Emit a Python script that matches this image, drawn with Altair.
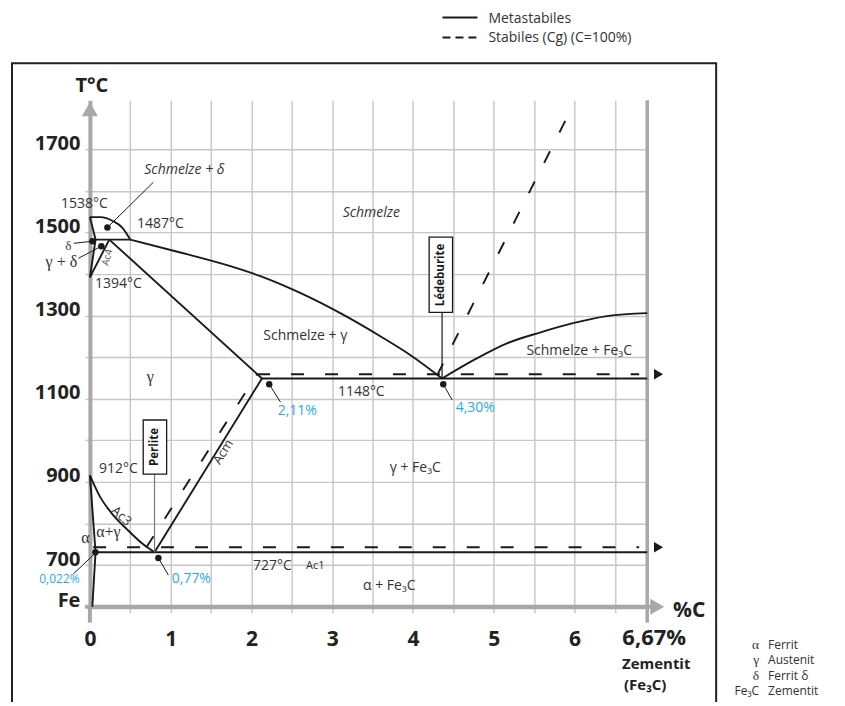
import altair as alt
import pandas as pd

# ---------------- data (carbon %, temperature °C) ----------------
# metastable (solid) lines
liq_delta_c = [0.00, 0.13, 0.29, 0.40, 0.50]
liq_delta_t = [1537, 1537, 1527, 1512, 1483]
delta_sol_c = [0.00, 0.07]
delta_sol_t = [1537, 1483]
delta_gamma_c = [0.07, 0.00]
delta_gamma_t = [1483, 1392]
ac4_c = [0.24, 0.00]
ac4_t = [1483, 1392]
peritectic_c = [0.05, 0.50]
peritectic_t = [1483, 1483]
gamma_sol_c = [0.24, 2.13]
gamma_sol_t = [1483, 1149]
liquidus_c = [0.50, 1.12, 1.74, 2.11, 2.61, 3.10, 3.60, 3.97, 4.36]
liquidus_t = [1483, 1452, 1419, 1395, 1354, 1306, 1250, 1205, 1149]
liq_fe3c_c = [4.36, 4.75, 5.17, 5.58, 5.98, 6.40, 6.90]
liq_fe3c_t = [1149, 1193, 1234, 1260, 1282, 1299, 1306]
eutectic_c = [2.13, 6.90]
eutectic_t = [1149, 1149]
acm_c = [0.80, 2.13]
acm_t = [731, 1149]
a3_c = [0.00, 0.13, 0.26, 0.46, 0.66, 0.80]
a3_t = [916, 863, 827, 786, 750, 731]
alpha_c = [0.00, 0.07]
alpha_t = [916, 731]
solvus_c = [0.07, 0.03]
solvus_t = [731, 600]
eutectoid_c = [0.07, 6.90]
eutectoid_t = [731, 731]

# stable (dashed) lines
st_eutectic_c = [2.07, 6.80]
st_eutectic_t = [1159, 1159]
st_eutectoid_c = [0.04, 6.80]
st_eutectoid_t = [743, 743]
st_acm_c = [0.70, 2.07]
st_acm_t = [743, 1159]
st_liq_c = [4.30, 5.92]
st_liq_t = [1157, 1782]

# marked points
dot_c = [0.217, 0.031, 0.142, 0.068, 0.848, 2.22, 4.375]
dot_t = [1512, 1479, 1467, 731, 717, 1135, 1135]

# ---------------- styling ----------------
FONT = "Open Sans"
SERIF = "Liberation Serif"
GRID = "#c6c6c6"
AXIS = "#a8a8a8"
INK = "#1a1a1a"
TXT = "#333333"
BLUE = "#29abe2"

xscale = alt.Scale(domain=[0, 6.9], nice=False, zero=False)
yscale = alt.Scale(domain=[600, 1818], nice=False, zero=False)


def seg_df(segs):
    rows = []
    for name, cs, ts in segs:
        for i, (c, t) in enumerate(zip(cs, ts)):
            rows.append({"seg": name, "i": i, "x": c, "T": t})
    return pd.DataFrame(rows)


solid = seg_df([
    ("liq_delta", liq_delta_c, liq_delta_t),
    ("delta_sol", delta_sol_c, delta_sol_t),
    ("delta_gamma", delta_gamma_c, delta_gamma_t),
    ("ac4", ac4_c, ac4_t),
    ("peritectic", peritectic_c, peritectic_t),
    ("gamma_sol", gamma_sol_c, gamma_sol_t),
    ("liquidus", liquidus_c, liquidus_t),
    ("liq_fe3c", liq_fe3c_c, liq_fe3c_t),
    ("eutectic", eutectic_c, eutectic_t),
    ("acm", acm_c, acm_t),
    ("a3", a3_c, a3_t),
    ("alpha", alpha_c, alpha_t),
    ("solvus", solvus_c, solvus_t),
    ("eutectoid", eutectoid_c, eutectoid_t),
])
dashed = seg_df([
    ("st_eutectic", st_eutectic_c, st_eutectic_t),
    ("st_eutectoid", st_eutectoid_c, st_eutectoid_t),
    ("st_acm", st_acm_c, st_acm_t),
    ("st_liq", st_liq_c, st_liq_t),
])

x_axis = alt.Axis(
    values=[i * 0.5 for i in range(14)],
    labelExpr="datum.value % 1 == 0 ? format(datum.value, 'd') : ''",
    title=None, grid=True, gridColor=GRID, gridWidth=1.4,
    domainColor=AXIS, domainWidth=4, tickColor=GRID, tickWidth=1.4, tickSize=6,
    labelFont=FONT, labelFontWeight="bold", labelFontSize=21, labelColor="#222",
    labelPadding=16, labelFlush=False, labelOverlap=False,
)
y_axis = alt.Axis(
    values=list(range(600, 1800, 100)),
    labelExpr="datum.value == 600 ? 'Fe' : (datum.value % 200 == 100 ? format(datum.value, 'd') : '')",
    title=None, grid=True, gridColor=GRID, gridWidth=1.4,
    domainColor=AXIS, domainWidth=4, tickColor=GRID, tickWidth=1.4, tickSize=5,
    labelFont=FONT, labelFontWeight="bold", labelFontSize=20, labelColor="#222",
    labelPadding=5, labelBaseline="alphabetic", labelFlush=False, labelOverlap=False,
)


def X(f="x"):
    return alt.X(f"{f}:Q", scale=xscale, axis=x_axis)


def Y(f="T"):
    return alt.Y(f"{f}:Q", scale=yscale, axis=y_axis)


layers = []

# gray edge lines / axis extensions (pixel decorations relative to plot area)
layers.append(alt.Chart(pd.DataFrame({"k": [0]})).mark_rule(color=AXIS, strokeWidth=3.5).encode(
    x=alt.value(558), y=alt.value(0), y2=alt.value(523)))
layers.append(alt.Chart(pd.DataFrame({"k": [0]})).mark_rule(color=AXIS, strokeWidth=4).encode(
    x=alt.value(0), y=alt.value(505), y2=alt.value(523)))
layers.append(alt.Chart(pd.DataFrame({"k": [0]})).mark_rule(color=AXIS, strokeWidth=4).encode(
    x=alt.value(-5), x2=alt.value(564), y=alt.value(507)))
layers.append(alt.Chart(pd.DataFrame({"k": [0]})).mark_point(
    shape="triangle-up", filled=True, color=AXIS, size=260, opacity=1).encode(
    x=alt.value(0), y=alt.value(9)))
layers.append(alt.Chart(pd.DataFrame({"k": [0]})).mark_point(
    shape="triangle-right", filled=True, color=AXIS, size=260, opacity=1).encode(
    x=alt.value(568), y=alt.value(507)))

# solid metastable lines (carry the axes)
layers.append(alt.Chart(solid).mark_line(color=INK, strokeWidth=1.9, interpolate="monotone").encode(
    x=X(), y=Y(), detail="seg:N", order="i:Q"))
# dashed stable lines
layers.append(alt.Chart(dashed).mark_line(color=INK, strokeWidth=1.9, strokeDash=[13, 21]).encode(
    x=X(), y=Y(), detail="seg:N", order="i:Q"))
# arrows at end of dashed lines
layers.append(alt.Chart(pd.DataFrame({"x": [7.04, 7.04], "T": [1159, 743]})).mark_point(
    shape="triangle-right", filled=True, color=INK, size=110, opacity=1).encode(x=X(), y=Y()))

# leader lines
lead = pd.DataFrame({
    "x": [0.217, -0.20, -0.142, 0.068, 0.848, 2.22, 4.375],
    "T": [1512, 1474, 1438, 729, 717, 1135, 1135],
    "x2": [0.786, 0.031, 0.142, -0.204, 0.972, 2.36, 4.486],
    "T2": [1621, 1479, 1467, 679, 676, 1092, 1097],
})
layers.append(alt.Chart(lead).mark_rule(color=INK, strokeWidth=1).encode(
    x=X(), y=Y(), x2="x2:Q", y2="T2:Q"))
# Perlite / Ledeburite stems
layers.append(alt.Chart(pd.DataFrame({"x": [0.80], "T": [731], "T2": [919]})).mark_rule(
    color="#777", strokeWidth=1.2).encode(x=X(), y=Y(), y2="T2:Q"))
layers.append(alt.Chart(pd.DataFrame({"x": [4.36], "T": [1149], "T2": [1308]})).mark_rule(
    color=INK, strokeWidth=1.2).encode(x=X(), y=Y(), y2="T2:Q"))
# boxes
boxes = pd.DataFrame({"x": [0.66, 4.20], "x2": [0.95, 4.49], "T": [919, 1308], "T2": [1049, 1489]})
layers.append(alt.Chart(boxes).mark_rect(fill="white", stroke=INK, strokeWidth=1.3).encode(
    x=X(), x2="x2:Q", y=Y(), y2="T2:Q"))
layers.append(alt.Chart(pd.DataFrame({"t": ["Perlite", "Lédeburite"], "x": [0.805, 4.345], "T": [984, 1398]})).mark_text(
    font=FONT, fontWeight="bold", fontSize=11.5, angle=270, color=INK, baseline="middle").encode(
    x=X(), y=Y(), text="t:N"))

# dots
layers.append(alt.Chart(pd.DataFrame({"x": dot_c, "T": dot_t})).mark_circle(
    color=INK, size=42, opacity=1).encode(x=X(), y=Y()))

# sans labels
sans = pd.DataFrame([
    ("1538°C", -0.068, 1568, 14, 0, TXT),
    ("1487°C", 0.873, 1520, 14, 0, TXT),
    ("1394°C", 0.353, 1375, 14, 0, TXT),
    ("Schmelze + γ", 2.667, 1250, 14, 0, TXT),
    ("Schmelze + Fe₃C", 6.058, 1214, 14, 0, TXT),
    ("1148°C", 3.36, 1116, 14, 0, TXT),
    ("912°C", 0.353, 931, 14, 0, TXT),
    ("γ + Fe₃C", 4.028, 933, 14, 0, TXT),
    ("α + Fe₃C", 3.707, 650, 14, 0, TXT),
    ("727°C", 2.259, 698, 14, 0, TXT),
    ("Ac1", 2.79, 698, 11, 0, TXT),
    ("Acm", 1.652, 972, 13, 302, TXT),
    ("Ac3", 0.39, 818, 13, 42, TXT),
    ("Ac4", 0.217, 1440, 10, 285, "#555"),
    ("2,11%", 2.568, 1070, 14, 0, BLUE),
    ("4,30%", 4.771, 1077, 14, 0, BLUE),
    ("0,022%", -0.377, 666, 12, 0, BLUE),
    ("0,77%", 1.256, 666, 14, 0, BLUE),
], columns=["t", "x", "T", "size", "angle", "color"])
layers.append(alt.Chart(sans).mark_text(font=FONT, baseline="middle").encode(
    x=X(), y=Y(), text="t:N",
    size=alt.Size("size:Q", scale=None), angle=alt.Angle("angle:Q", scale=None),
    color=alt.Color("color:N", scale=None)))

ital = pd.DataFrame([
    ("Schmelze + δ", 1.17, 1650),
    ("Schmelze", 3.484, 1546),
], columns=["t", "x", "T"])
layers.append(alt.Chart(ital).mark_text(font=FONT, fontStyle="italic", fontSize=14, color=TXT, baseline="middle").encode(
    x=X(), y=Y(), text="t:N"))

serif = pd.DataFrame([
    ("δ", -0.266, 1468, 13),
    ("γ + δ", -0.353, 1428, 16),
    ("γ", 0.749, 1152, 16),
    ("α+γ", 0.229, 779, 16),
    ("α", -0.056, 765, 16),
], columns=["t", "x", "T", "size"])
layers.append(alt.Chart(serif).mark_text(font=SERIF, color=TXT, baseline="middle").encode(
    x=X(), y=Y(), text="t:N", size=alt.Size("size:Q", scale=None)))

# ---------------- outside texts (pixel positions relative to plot area) ----------------
def ptext(text, px, py, size, weight="normal", align="center", font=FONT, color="#222"):
    return alt.Chart(pd.DataFrame({"t": [text]})).mark_text(
        font=font, fontSize=size, fontWeight=weight, align=align, baseline="middle", color=color).encode(
        x=alt.value(px), y=alt.value(py), text="t:N")


layers += [
    ptext("T°C", 2, -14, 20, "bold"),
    ptext("%C", 600, 511, 21, "bold"),
    ptext("6,67%", 565, 538, 22, "bold"),
    ptext("Zementit", 567, 564, 15, "bold"),
    ptext("(Fe₃C)", 556, 585, 15, "bold"),
    ptext("Metastabiles", 399, -81, 14, align="left", color=TXT),
    ptext("Stabiles (Cg) (C=100%)", 399, -62, 14, align="left", color=TXT),
    ptext("α", 670, 545, 13.5, align="right", font=SERIF, color=TXT),
    ptext("γ", 670, 560.5, 13.5, align="right", font=SERIF, color=TXT),
    ptext("δ", 670, 576, 13.5, align="right", font=SERIF, color=TXT),
    ptext("Fe₃C", 670, 591.5, 12, align="right", color=TXT),
    ptext("Ferrit", 679, 545, 12, align="left", color=TXT),
    ptext("Austenit", 679, 560.5, 12, align="left", color=TXT),
    ptext("Ferrit δ", 679, 576, 12, align="left", color=TXT),
    ptext("Zementit", 679, 591.5, 12, align="left", color=TXT),
]
# top legend line samples
layers.append(alt.Chart(pd.DataFrame({"k": [0]})).mark_rule(color=INK, strokeWidth=2).encode(
    x=alt.value(353), x2=alt.value(388), y=alt.value(-83)))
layers.append(alt.Chart(pd.DataFrame({"k": [0]})).mark_rule(color=INK, strokeWidth=2, strokeDash=[8, 5]).encode(
    x=alt.value(353), x2=alt.value(388), y=alt.value(-63)))
# outer frame
layers.append(alt.Chart(pd.DataFrame({"k": [0]})).mark_rect(
    fillOpacity=0, stroke="#222", strokeWidth=2).encode(
    x=alt.value(-78), x2=alt.value(627), y=alt.value(-37), y2=alt.value(640)))

chart = alt.layer(*layers).properties(
    width=558, height=507,
    padding={"left": 82, "top": 92, "right": 190, "bottom": 95},
    autosize=alt.AutoSizeParams(type="none"),
).configure_view(stroke=None)

chart.save("out.html", embed_options={"renderer": "svg", "actions": False})
